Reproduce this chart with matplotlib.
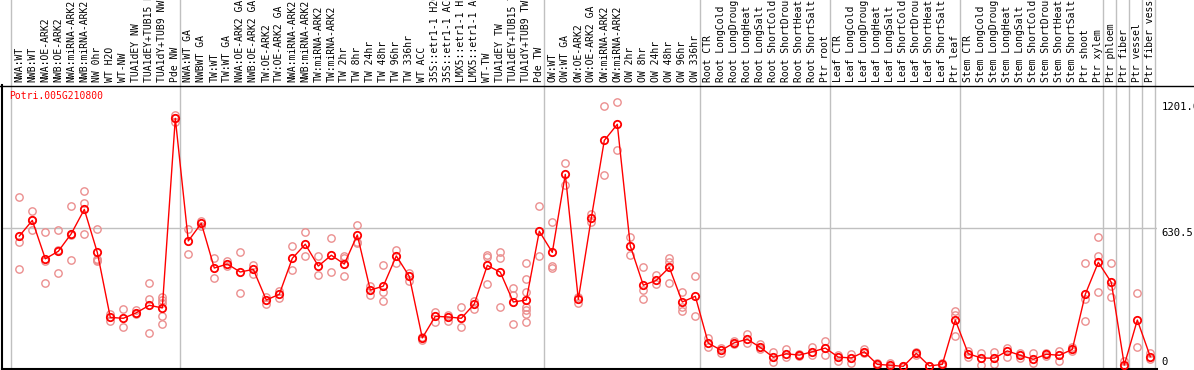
import numpy as np
import matplotlib
matplotlib.use("Agg")
import matplotlib.pyplot as plt
from matplotlib.lines import Line2D

gene = "Potri.005G210800"

samples = [
    "NWA:WT", "NWB:WT", "NWA:OE-ARK2", "NWB:OE-ARK2", "NWA:miRNA-ARK2", "NWB:miRNA-ARK2",
    "NW 0hr", "WT H2O", "WT-NW", "TUA1dEY NW", "TUA1dEY+TUB15 NW", "TUA1dY+TUB9 NW", "Pde NW",
    "NWA:WT GA", "NWBWT GA", "TW:WT", "TW:WT GA", "NWA:OE-ARK2 GA", "NWB:OE-ARK2 GA",
    "TW:OE-ARK2", "TW:OE-ARK2 GA", "NWA:miRNA-ARK2", "NWB:miRNA-ARK2", "TW:miRNA-ARK2",
    "TW:miRNA-ARK2", "TW 2hr", "TW 8hr", "TW 24hr", "TW 48hr", "TW 96hr", "TW 336hr",
    "WT ACC", "35S::etr1-1 H2O", "35S::etr1-1 ACC", "LMX5::etr1-1 H2O", "LMX5::etr1-1 ACC",
    "WT-TW", "TUA1dEY TW", "TUA1dEY+TUB15 TW", "TUA1dY+TUB9 TW", "Pde TW",
    "OW:WT", "OW:WT GA", "OW:OE-ARK2", "OW:OE-ARK2 GA", "OW:miRNA-ARK2", "OW:miRNA-ARK2",
    "OW 2hr", "OW 8hr", "OW 24hr", "OW 48hr", "OW 96hr", "OW 336hr",
    "Root CTR", "Root LongCold", "Root LongDrought", "Root LongHeat", "Root LongSalt",
    "Root ShortCold", "Root ShortDrought", "Root ShortHeat", "Root ShortSalt", "Ptr root",
    "Leaf CTR", "Leaf LongCold", "Leaf LongDrought", "Leaf LongHeat", "Leaf LongSalt",
    "Leaf ShortCold", "Leaf ShortDrought", "Leaf ShortHeat", "Leaf ShortSalt", "Ptr leaf",
    "Stem CTR", "Stem LongCold", "Stem LongDrought", "Stem LongHeat", "Stem LongSalt",
    "Stem ShortCold", "Stem ShortDrought", "Stem ShortHeat", "Stem ShortSalt",
    "Ptr shoot", "Ptr xylem", "Ptr phloem", "Ptr fiber", "Ptr vessel", "Ptr fiber vessel",
]

means = [
    594, 665, 491, 525, 605, 715, 520, 225, 221, 246, 280, 268, 1128,
    572, 652, 449, 467, 431, 443, 304, 330, 493, 557, 458, 507, 467, 599, 349, 367, 504, 411,
    132, 230, 227, 221, 286, 461, 430, 295, 304, 616,
    520, 874, 307, 676, 1028, 1101, 549, 371, 393, 452, 295, 321,
    108, 76, 110, 126, 89, 44, 60, 54, 69, 86,
    45, 41, 69, 12, 8, 3, 62, 5, 12, 213,
    60, 41, 40, 73, 53, 35, 58, 53, 80,
    330, 475, 384, 9, 213, 47,
]

replicates = [
    [770, 568, 443], [706, 621, 668], [611, 482, 380], [620, 425, 530], [729, 484, 601],
    [797, 742, 605], [626, 490, 480, 485], [240, 211], [262, 180], [259, 240],
    [380, 307, 153], [319, 304, 289, 231, 195], [1143, 1128, 1113],
    [625, 513], [664, 640], [495, 403], [482, 458], [520, 336], [464, 422],
    [319, 284], [343, 313], [548, 439], [611, 502], [504, 416], [584, 431],
    [505, 493, 413], [644, 568, 561], [369, 328], [463, 339, 299], [531, 470], [428, 392],
    [137, 123], [248, 203], [235, 209], [271, 180], [301, 264],
    [508, 500, 375], [520, 493, 271], [357, 327, 195],
    [472, 398, 340, 274, 259, 240, 203], [729, 504],
    [656, 458, 448], [924, 827], [319, 292], [694, 658], [1183, 870], [1201, 983],
    [590, 508], [454, 349, 310], [417, 375], [493, 478, 381], [340, 274, 254], [411, 230],
    [130, 92], [88, 64], [119, 104], [148, 108], [104, 80],
    [68, 21], [80, 47], [59, 50], [92, 54], [118, 54],
    [54, 29], [59, 20], [80, 62], [20, 5], [20, 0], [4, 2], [69, 55], [6, 3], [18, 6],
    [254, 236, 142],
    [74, 47], [62, 10], [67, 14], [88, 47], [62, 40], [62, 17], [62, 50], [74, 29], [92, 74],
    [470, 307, 209], [588, 504, 339], [470, 367, 316], [28, 2], [334, 91], [62, 35],
]

separators = [-1, 12, 40, 52, 62, 72, 83, 84, 85, 86, 87]
y_mid = 630.5
y_max = 1201

W, H = 1194, 370
fig = plt.figure(figsize=(W / 100, H / 100), dpi=100)
ax = fig.add_axes([2 / W, 1 / H, (1157 - 2) / W, 369 / H])

x = np.arange(len(samples))
ax.set_xlim(-1.331, 87.515)
ax.set_ylim(-9, 1665)
top_line = 1279

# group separators and midline
for s in separators:
    ax.axvline(s + 0.385, color="#c0c0c0", lw=1.0, zorder=1)
ax.plot([-1.331, 87.515], [y_mid, y_mid], color="#c0c0c0", lw=1.0, zorder=1)

# replicate samples
for xi, reps in zip(x, replicates):
    ax.plot([xi] * len(reps), reps, "o", ms=5.3, mfc="none", mec="#eb8f8f",
            mew=1.0, zorder=2, clip_on=False)

# mean profile
ax.plot(x, means, "-o", color="red", lw=1.0, ms=5.3, mfc="none", mec="red",
        mew=1.3, zorder=3, clip_on=False)

for xi, name in zip(x, samples):
    ax.text(xi, top_line + 12, name, rotation=90, ha="center", va="bottom",
            family="DejaVu Sans Mono", fontsize=7, color="black", clip_on=False)

ax.text(-0.8, 1228, gene, color="red", family="DejaVu Sans Mono", fontsize=7,
        ha="left", va="center")

for val, lab, va in [(y_max, "1201.0", "top"), (y_mid, "630.5", "top"), (0, "0", "bottom")]:
    ax.text(87.85, val, lab, ha="left", va=va, family="DejaVu Sans Mono",
            fontsize=7.6, color="black", clip_on=False)

for side in ["top", "right"]:
    ax.spines[side].set_visible(False)
ax.spines["left"].set_bounds(-9, top_line)
ax.spines["left"].set_linewidth(1.5)
ax.spines["bottom"].set_linewidth(1.5)
ax.set_xticks([])
ax.set_yticks([])

fig.add_artist(Line2D([0, 1], [1 - 85.5 / H, 1 - 85.5 / H], color="black", lw=1.0))

fig.savefig("out.png", dpi=100)
